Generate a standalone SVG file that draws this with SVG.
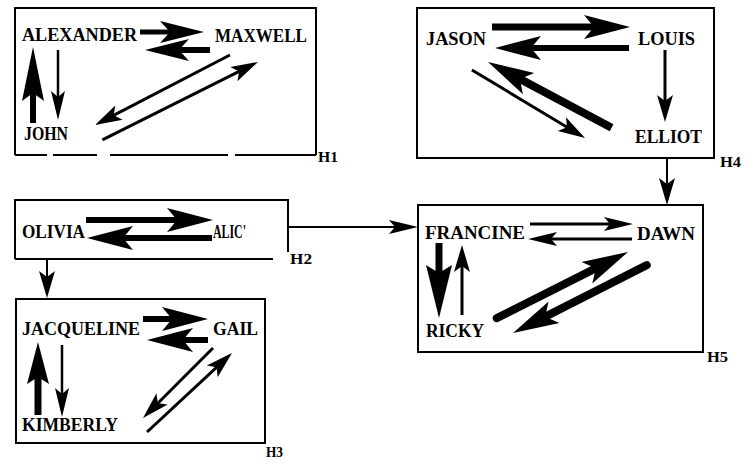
<svg xmlns="http://www.w3.org/2000/svg" xmlns:xlink="http://www.w3.org/1999/xlink" width="752" height="463" viewBox="0 0 752 463">
  <style>
    .box { fill: none; stroke: #000; stroke-width: 2; }
    .nm { font-family: "Liberation Serif", "DejaVu Serif", serif; font-weight: bold; font-size: 18px; fill: #000; }
    .lbl { font-family: "Liberation Serif", "DejaVu Serif", serif; font-weight: bold; font-size: 15px; fill: #000; }
    .ar line { stroke: #000; }
    .ar use, .ar polygon { fill: #000; }
  </style>
  <defs>
    <!-- arrowheads, tip at the origin pointing along +x -->
    <polygon id="hXL" points="0,0 -46,-12 -36,0 -46,12"/>
    <polygon id="hL" points="0,0 -44,-11 -34,0 -44,11"/>
    <polygon id="hTall" points="0,0 -54,-11 -46,0 -54,11"/>
    <polygon id="hT3" points="0,0 -42,-11 -35,0 -42,11"/>
    <polygon id="hT5" points="0,0 -53,-13 -45,0 -53,13"/>
    <polygon id="hM" points="0,0 -27,-8 -21,0 -27,8"/>
    <polygon id="hS" points="0,0 -29,-7 -23,0 -29,7"/>
  </defs>

  <rect width="752" height="463" fill="#fff"/>

  <!-- H1 -->
  <g id="H1">
    <path class="box" d="M15,155 V8 H316 V155 M15,155 H47 M53,155 H97 M110,155 H228 M235,155 H316"/>
    <text class="lbl" x="318" y="162" textLength="20" lengthAdjust="spacingAndGlyphs">H1</text>
    <g id="alexander"><text class="nm" x="22" y="41" textLength="115" lengthAdjust="spacingAndGlyphs">ALEXANDER</text></g>
    <g id="maxwell"><text class="nm" x="215" y="42" textLength="92" lengthAdjust="spacingAndGlyphs">MAXWELL</text></g>
    <g id="john"><text class="nm" x="24" y="140" textLength="44" lengthAdjust="spacingAndGlyphs">JOHN</text></g>
  </g>

  <!-- H4 -->
  <g id="H4">
    <rect class="box" x="417" y="8" width="297" height="150"/>
    <text class="lbl" x="720" y="167" textLength="21" lengthAdjust="spacingAndGlyphs">H4</text>
    <g id="jason"><text class="nm" x="426" y="45" textLength="60" lengthAdjust="spacingAndGlyphs">JASON</text></g>
    <g id="louis"><text class="nm" x="638" y="45" textLength="57" lengthAdjust="spacingAndGlyphs">LOUIS</text></g>
    <g id="elliot"><text class="nm" x="635" y="143" textLength="67" lengthAdjust="spacingAndGlyphs">ELLIOT</text></g>
  </g>

  <!-- H2 -->
  <g id="H2">
    <path class="box" d="M15,259 V200 H288 V252 M15,259 H273"/>
    <text class="lbl" x="290" y="264" textLength="22" lengthAdjust="spacingAndGlyphs">H2</text>
    <g id="olivia"><text class="nm" x="22" y="238" textLength="63" lengthAdjust="spacingAndGlyphs">OLIVIA</text></g>
    <g id="alic"><text class="nm" x="213" y="238" textLength="33" lengthAdjust="spacingAndGlyphs">ALIC'</text></g>
  </g>

  <!-- H3 -->
  <g id="H3">
    <rect class="box" x="16" y="299" width="249" height="144"/>
    <text class="lbl" x="266" y="457" textLength="17" lengthAdjust="spacingAndGlyphs">H3</text>
    <g id="jacqueline"><text class="nm" x="22" y="335" textLength="118" lengthAdjust="spacingAndGlyphs">JACQUELINE</text></g>
    <g id="gail"><text class="nm" x="213" y="335" textLength="45" lengthAdjust="spacingAndGlyphs">GAIL</text></g>
    <g id="kimberly"><text class="nm" x="22" y="431" textLength="96" lengthAdjust="spacingAndGlyphs">KIMBERLY</text></g>
  </g>

  <!-- H5 -->
  <g id="H5">
    <rect class="box" x="418" y="205" width="285" height="147"/>
    <text class="lbl" x="707" y="362" textLength="21" lengthAdjust="spacingAndGlyphs">H5</text>
    <g id="francine"><text class="nm" x="425" y="239" textLength="100" lengthAdjust="spacingAndGlyphs">FRANCINE</text></g>
    <g id="dawn"><text class="nm" x="637" y="240" textLength="58" lengthAdjust="spacingAndGlyphs">DAWN</text></g>
    <g id="ricky"><text class="nm" x="426" y="337" textLength="58" lengthAdjust="spacingAndGlyphs">RICKY</text></g>
  </g>

  <!-- connectors: each arrow is placed at its tip and rotated along its direction -->
  <g id="connectors" class="ar">
    <!-- H1 -->
    <g transform="translate(204,32)"><line x1="-64" y1="0" x2="-26" y2="0" stroke-width="5"/><use xlink:href="#hL"/></g>
    <g transform="translate(145,50) rotate(180)"><line x1="-65" y1="0" x2="-26" y2="0" stroke-width="6"/><use xlink:href="#hL"/></g>
    <g transform="translate(33,47) rotate(-90)"><line x1="-76" y1="0" x2="-34" y2="0" stroke-width="6"/><use xlink:href="#hTall"/></g>
    <g transform="translate(58,120) rotate(90)"><line x1="-70" y1="0" x2="-18" y2="0" stroke-width="2.5"/><use xlink:href="#hS"/></g>
    <g transform="translate(95,125) rotate(152.59)"><line x1="-152" y1="0" x2="-16" y2="0" stroke-width="3"/><use xlink:href="#hM"/></g>
    <g transform="translate(258,62) rotate(-26.57)"><line x1="-174" y1="0" x2="-16" y2="0" stroke-width="3"/><use xlink:href="#hM"/></g>

    <!-- H4 -->
    <g transform="translate(630,27)"><line x1="-138" y1="0" x2="-28" y2="0" stroke-width="7"/><use xlink:href="#hXL"/></g>
    <g transform="translate(495,48) rotate(180)"><line x1="-134" y1="0" x2="-28" y2="0" stroke-width="6"/><use xlink:href="#hXL"/></g>
    <g transform="translate(585,138) rotate(31.04)"><line x1="-132" y1="0" x2="-16" y2="0" stroke-width="3"/><use xlink:href="#hM"/></g>
    <g transform="translate(488,62) rotate(-151.98)"><line x1="-140" y1="0" x2="-28" y2="0" stroke-width="8"/><use xlink:href="#hXL"/></g>
    <g transform="translate(665,122) rotate(90)"><line x1="-72" y1="0" x2="-16" y2="0" stroke-width="3"/><use xlink:href="#hM"/></g>

    <!-- H2 -->
    <g transform="translate(213,220)"><line x1="-127" y1="0" x2="-28" y2="0" stroke-width="6"/><use xlink:href="#hXL"/></g>
    <g transform="translate(87,238) rotate(180)"><line x1="-125" y1="0" x2="-28" y2="0" stroke-width="6"/><use xlink:href="#hXL"/></g>

    <!-- H3 -->
    <g transform="translate(208,319)"><line x1="-65" y1="0" x2="-28" y2="0" stroke-width="6"/><use xlink:href="#hXL"/></g>
    <g transform="translate(147,340) rotate(180)"><line x1="-61" y1="0" x2="-28" y2="0" stroke-width="6"/><use xlink:href="#hXL"/></g>
    <g transform="translate(38,342) rotate(-90)"><line x1="-73" y1="0" x2="-27" y2="0" stroke-width="7"/><use xlink:href="#hT3"/></g>
    <g transform="translate(62,417) rotate(90)"><line x1="-72" y1="0" x2="-18" y2="0" stroke-width="2.5"/><use xlink:href="#hS"/></g>
    <g transform="translate(143,418) rotate(135)"><line x1="-99" y1="0" x2="-16" y2="0" stroke-width="3"/><use xlink:href="#hM"/></g>
    <g transform="translate(232,353) rotate(-42.91)"><line x1="-116" y1="0" x2="-16" y2="0" stroke-width="3"/><use xlink:href="#hM"/></g>

    <!-- H5 -->
    <g transform="translate(633,224)"><line x1="-103" y1="0" x2="-18" y2="0" stroke-width="3"/><use xlink:href="#hS"/></g>
    <g transform="translate(528,239) rotate(180)"><line x1="-104" y1="0" x2="-18" y2="0" stroke-width="3"/><use xlink:href="#hS"/></g>
    <g transform="translate(439,318) rotate(90)"><line x1="-75" y1="0" x2="-34" y2="0" stroke-width="7"/><use xlink:href="#hT5"/></g>
    <g transform="translate(462,245) rotate(-90)"><line x1="-70" y1="0" x2="-16" y2="0" stroke-width="3"/><use xlink:href="#hM"/></g>
    <g transform="translate(628,252) rotate(-26.74)"><line x1="-147" y1="0" x2="-28" y2="0" stroke-width="8" stroke-linecap="round"/><use xlink:href="#hXL"/></g>
    <g transform="translate(513,333) rotate(153.09)"><line x1="-150" y1="0" x2="-28" y2="0" stroke-width="8" stroke-linecap="round"/><use xlink:href="#hXL"/></g>

    <!-- between groups -->
    <g transform="translate(667,205) rotate(90)"><line x1="-47" y1="0" x2="-16" y2="0" stroke-width="2"/><use xlink:href="#hM"/></g>
    <g transform="translate(418,227)"><line x1="-130" y1="0" x2="-18" y2="0" stroke-width="2"/><use xlink:href="#hS"/></g>
    <g transform="translate(47,298) rotate(90)"><line x1="-39" y1="0" x2="-16" y2="0" stroke-width="2"/><use xlink:href="#hM"/></g>
  </g>
</svg>
